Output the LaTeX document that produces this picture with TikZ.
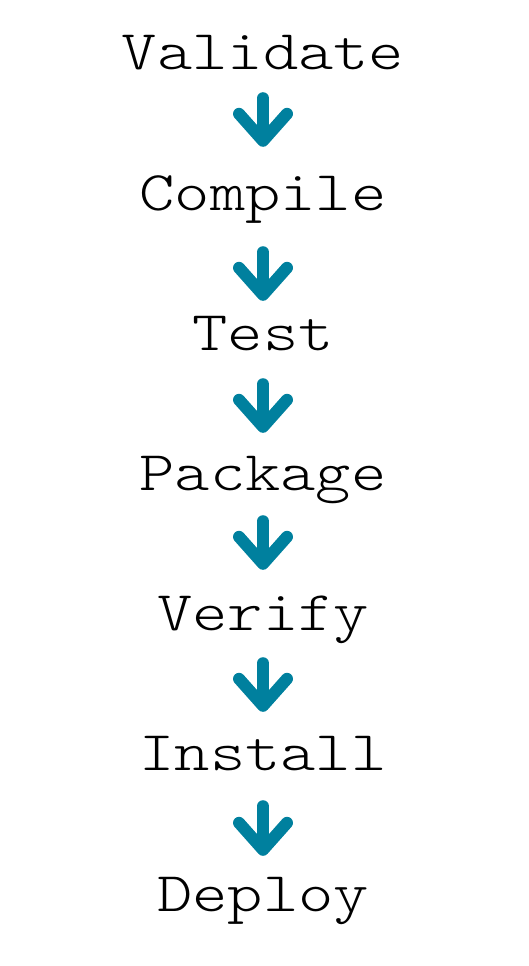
\documentclass[tikz,border=0pt]{standalone}
\usepackage{fontspec}
\usetikzlibrary{arrows.meta}
\newfontfamily\stagefont[FakeStretch=1.2]{Latin Modern Mono Light}
\definecolor{flow-teal}{RGB}{0,128,158}

\begin{document}
\begin{tikzpicture}
    [x=1pt, y=-1pt,
    stage/.style = {anchor=base, inner sep=0pt, text height=40pt, text depth=12pt,
            font=\stagefont\fontsize{56}{56}\selectfont},
    flow/.style = {draw=flow-teal, line width=12pt, line cap=round,
            -{Straight Barb[round, length=27pt, width=48pt]}},
    ]
    \useasboundingbox (0,0) rectangle (528,966);

    \node[stage] (validate) at (263,70)  {Validate};
    \node[stage] (compile)  at (263,210) {Compile};
    \node[stage] (test)     at (263,350) {Test};
    \node[stage] (package)  at (263,490) {Package};
    \node[stage] (verify)   at (263,630) {Verify};
    \node[stage] (install)  at (263,770) {Install};
    \node[stage] (deploy)   at (263,911) {Deploy};

    \draw[flow, shorten <=16pt, shorten >=23pt] (validate.south) to (compile.north);
    \draw[flow, shorten <=30pt, shorten >=9pt]  (compile.south) to (test.north);
    \draw[flow, shorten <=22pt, shorten >=17pt] (test.south) to (package.north);
    \draw[flow, shorten <=19pt, shorten >=20pt] (package.south) to (verify.north);
    \draw[flow, shorten <=21pt, shorten >=18pt] (verify.south) to (install.north);
    \draw[flow, shorten <=24pt, shorten >=15pt] (install.south) to (deploy.north);
\end{tikzpicture}
\end{document}
